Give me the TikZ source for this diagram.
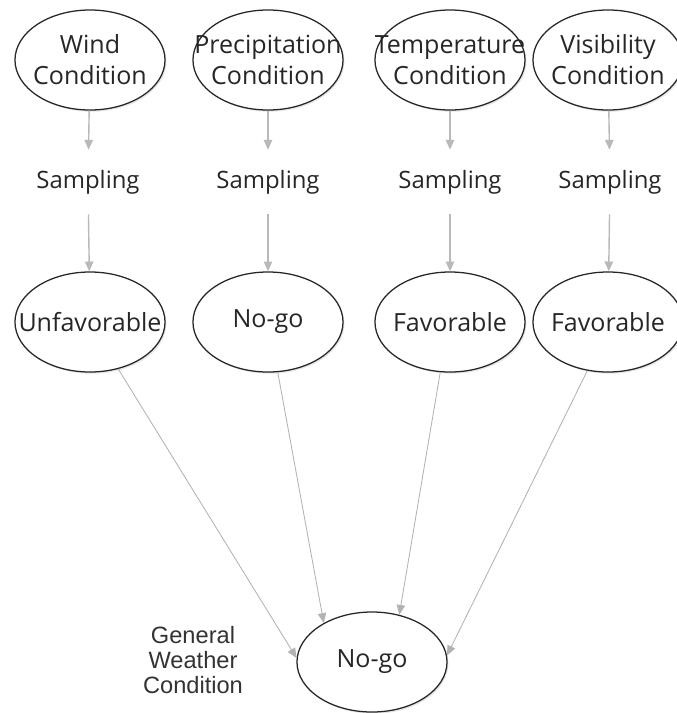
\documentclass[tikz,border=0pt]{standalone}
\usepackage{fontspec}
\setmainfont{Open Sans}
\newfontfamily\arialfont{Liberation Sans}
\usetikzlibrary{shapes.geometric,arrows.meta,shadows}

\tikzset{fleche/.style={-{Triangle[length=7pt,width=6pt]},color=gray!55,line width=1pt}}

\begin{document}
\begin{tikzpicture}[
	x=0.025cm, y=-0.025cm,
	etat/.style={ellipse,draw=black!85,line width=0.9pt,fill=white,minimum width=3.75cm,minimum height=2.5cm,inner sep=0pt,
		drop shadow={shadow xshift=1pt,shadow yshift=-1.2pt,opacity=0.2}},
	etiq/.style={align=center,text=black!85,font=\fontsize{17.8}{22}\selectfont},
	sample/.style={text=black!85,font=\fontsize{17}{20}\selectfont,minimum height=1.6cm,inner sep=0pt},
	lien/.style={-{Triangle[length=7pt,width=6pt]},color=gray!60,line width=0.6pt},
	]
	\useasboundingbox (0,0) rectangle (677,713);
	
	% conditions
	\node[etat,label={[etiq]center:{Wind\\Condition}}] (wind) at (90,60) {};
	\node[etat,label={[etiq]center:{Precipitation\\Condition}}] (prec) at (268,60) {};
	\node[etat,label={[etiq]center:{Temperature\\Condition}}] (temp) at (450,60) {};
	\node[etat,label={[etiq]center:{Visibility\\Condition}}] (visi) at (608,60) {};
	
	% sampling
	\node[sample] (sw) at (88,182) {Sampling};
	\node[sample] (sp) at (268,182) {Sampling};
	\node[sample] (st) at (450,182) {Sampling};
	\node[sample] (sv) at (610,182) {Sampling};
	
	% results
	\node[etat,label={[etiq]center:Unfavorable}] (unfav) at (90,322) {};
	\node[etat,label={[etiq]center:No-go}] (nogo) at (268,322) {};
	\node[etat,label={[etiq]center:Favorable}] (fav) at (450,322) {};
	\node[etat,label={[etiq]center:Favorable}] (favv) at (608,322) {};
	
	\foreach \src/\smp/\dst in {wind/sw/unfav,prec/sp/nogo,temp/st/fav,visi/sv/favv}
	{
		\draw[fleche] (\src) -- (\smp);
		\draw[fleche] (\smp) -- (\dst);
	}
	
	% general
	\node[etat,label={[etiq]center:No-go}] (gen) at (372,662) {};
	\node[align=center,text=black!80,font=\arialfont\fontsize{16.8}{17.8}\selectfont] (gwc) at (193,660) {General\\Weather\\Condition};
	
	\draw[lien] (unfav.-59) -- (gen.177);
	\draw[lien] (nogo.-79) -- (gen.141);
	\draw[lien] (fav.-101) -- (gen.60);
	\draw[lien] (favv.-113) -- (gen.5);

\end{tikzpicture}
\end{document}
